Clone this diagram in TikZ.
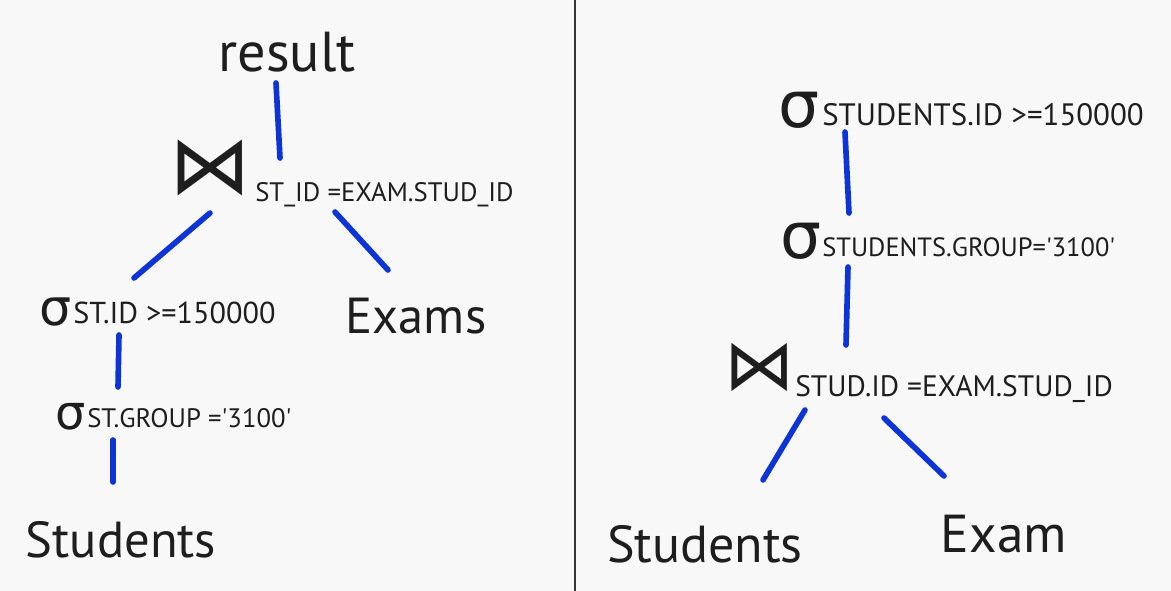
\documentclass[tikz,border=0pt]{standalone}
\usepackage{fontspec}
\setmainfont{PT Sans}
\newfontfamily\symfont{DejaVu Sans}
\usepackage{xcolor}

\definecolor{pagebg}{RGB}{248,248,248}
\definecolor{inkblue}{RGB}{12,52,214}
\definecolor{ink}{RGB}{30,30,30}

\begin{document}
\begin{tikzpicture}[
  x=0.025cm, y=-0.025cm,
  rel/.style={font=\fontsize{#1}{#1}\selectfont,text=ink,inner sep=0pt,anchor=base},
  cond/.style={font=\fontsize{#1}{#1}\selectfont,text=ink,inner sep=0pt,anchor=base west},
  sel/.style={font=\fontsize{#1}{#1}\selectfont\symfont,text=ink,inner sep=0pt,anchor=base east},
  join/.style={font=\fontsize{#1}{#1}\selectfont\symfont,text=ink,inner sep=0pt},
  edge/.style={draw=inkblue,line width=4pt,line cap=round}
]

  % page and divider
  \fill[pagebg] (0,0) rectangle (1171,591);
  \useasboundingbox (0,0) rectangle (1171,591);
  \draw[ink!90,line width=1pt] (575,0) -- (575,591);

  %% ===== LEFT TREE =====
  \node[rel=40] (res) at (287,72) {result};

  % join
  \node[join=58] (jn1) at (210,168) {⋈};
  \node[cond=19] (jn1c) at (255,201) {ST\_ID =EXAM.STUD\_ID};

  % selections
  \node[sel=36] (sg1) at (72,325) {σ};
  \node[cond=21.5] (sg1c) at (73,323) {ST.ID >=150000};
  \node[sel=34] (sg2) at (86,429) {σ};
  \node[cond=19] (sg2c) at (87,427) {ST.GROUP =\textquotesingle 3100\textquotesingle};

  % relations
  \node[rel=36] (exL) at (416,333) {Exams};
  \node[rel=36] (stL) at (121,557) {Students};

  \draw[edge] ([shift={(-11,11)}]res.base) -- ([shift={(25,-43)}]jn1c.base west);
  \draw[edge] ([shift={(0,45)}]jn1.center) -- ([shift={(61,-45)}]sg1c.base west);
  \draw[edge] ([shift={(80,11)}]jn1c.base west) -- ([shift={(-28,-63)}]exL.base);
  \draw[edge] ([shift={(46,12)}]sg1c.base west) -- ([shift={(31,-40)}]sg2c.base west);
  \draw[edge] ([shift={(26,13)}]sg2c.base west) -- ([shift={(-8,-75)}]stL.base);

  %% ===== RIGHT TREE =====
  \node[sel=46] (sg3) at (820,128) {σ};
  \node[cond=22] (sg3c) at (822,126) {STUDENTS.ID >=150000};
  \node[sel=46] (sg4) at (822,258) {σ};
  \node[cond=18.8] (sg4c) at (822,256) {STUDENTS.GROUP=\textquotesingle 3100\textquotesingle};

  \node[join=50] (jn2) at (760,367) {⋈};
  \node[cond=21] (jn2c) at (795,396) {STUD.ID =EXAM.STUD\_ID};

  \node[rel=37] (stR) at (705,562) {Students};
  \node[rel=38] (exR) at (1004,552) {Exam};

  \draw[edge] ([shift={(23,6)}]sg3c.base west) -- ([shift={(27,-43)}]sg4c.base west);
  \draw[edge] ([shift={(26,11)}]sg4c.base west) -- ([shift={(51,-51)}]jn2c.base west);
  \draw[edge] ([shift={(10,14)}]jn2c.base west) -- ([shift={(58,-82)}]stR.base);
  \draw[edge] ([shift={(89,22)}]jn2c.base west) -- ([shift={(-60,-76)}]exR.base);

\end{tikzpicture}
\end{document}
